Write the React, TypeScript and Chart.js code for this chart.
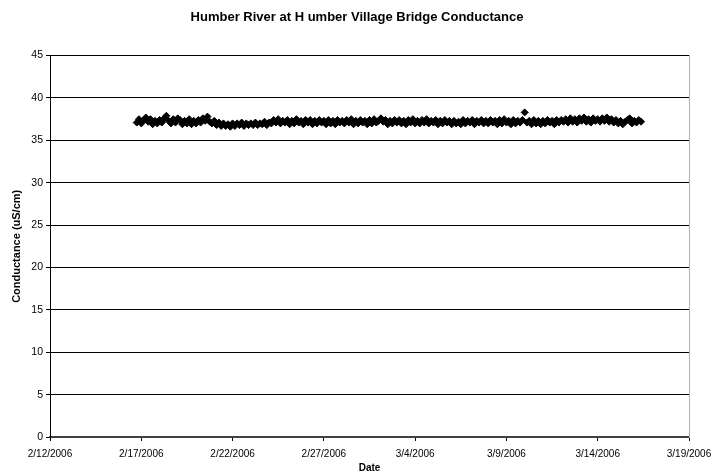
import React, { useEffect, useRef } from "react";
import { Chart, registerables } from "chart.js";

Chart.register(...registerables);

// Axis range in days after 2/12/2006
const axisStartDate = Date.UTC(2006, 1, 12);
const xMinDays = 0;
const xMaxDays = 35;
const xStepDays = 5;
const yTicksMin = 0;
const yTicksMax = 45;
const yTicksStep = 5;

// Sampling: first reading 2/16/2006 18:00, one reading every 3 hours
const firstReadingDay = 4.75;
const readingIntervalDays = 0.125;

// Conductance (uS/cm) readings, split by week
const week1 = [
  37.1, 37.5, 37.0, 37.4, 37.7, 37.2, 37.5, 36.9, 37.3, 37.0, 37.4,
  37.1, 37.6, 37.9, 37.3, 37.0, 37.5, 37.1, 37.6,
  37.4, 36.9, 37.3, 37.0, 37.5, 36.9, 37.3, 37.0,
  37.4, 37.1, 37.6, 37.3, 37.8, 37.2, 37.0, 37.3,
  36.8, 37.1, 36.7, 37.0, 36.7, 36.9, 36.6, 37.0,
  36.7, 37.0, 36.8, 37.1, 36.7, 37.0, 36.8, 37.0,
  36.8, 37.1, 36.8, 37.0, 36.9, 37.2, 36.8, 37.1,
];
const week2 = [
  37.0, 37.4, 37.1, 37.5, 37.0, 37.3, 37.1, 37.4,
  36.9, 37.3, 37.0, 37.5, 37.1, 37.3, 36.9, 37.4,
  37.1, 37.4, 36.9, 37.3, 37.0, 37.4, 37.1, 37.3,
  36.9, 37.4, 37.0, 37.3, 36.9, 37.4, 37.1, 37.3,
  37.0, 37.4, 37.1, 37.5, 36.9, 37.3, 37.0, 37.4,
  37.1, 37.3, 36.9, 37.4, 37.0, 37.5, 37.1, 37.3,
  37.6, 37.2, 37.4, 36.9, 37.3, 37.0, 37.4, 37.1,
];
const week3 = [
  37.4, 37.0, 37.3, 36.9, 37.4, 37.1, 37.5, 37.0,
  37.3, 37.0, 37.4, 37.1, 37.5, 37.0, 37.3, 37.1,
  37.4, 36.9, 37.3, 37.0, 37.4, 37.1, 37.3, 36.9,
  37.3, 37.0, 37.2, 36.9, 37.4, 37.0, 37.3, 37.1,
  37.4, 36.9, 37.3, 37.1, 37.4, 37.0, 37.3, 37.0,
  37.4, 37.1, 37.3, 36.9, 37.4, 37.0, 37.5, 37.1,
  37.3, 36.9, 37.4, 37.0, 37.3, 37.1, 37.4, 38.3,
];
const week4 = [
  37.1, 37.3, 36.9, 37.4, 37.0, 37.3, 36.9, 37.3,
  37.0, 37.4, 37.1, 37.3, 36.9, 37.4, 37.1, 37.4,
  37.2, 37.5, 37.1, 37.6, 37.2, 37.5, 37.1, 37.6,
  37.3, 37.7, 37.2, 37.5, 37.1, 37.6, 37.3, 37.5,
  37.2, 37.6, 37.3, 37.7, 37.2, 37.5, 37.1, 37.4,
  37.0, 37.3, 36.9, 37.2, 37.4, 37.6, 37.0, 37.3,
  37.1, 37.4, 37.2,
];

const conductance = [...week1, ...week2, ...week3, ...week4];

const FONT = "'Liberation Sans', Arial, sans-serif";

function formatDate(dayOffset: number): string {
  const d = new Date(axisStartDate + Math.round(dayOffset * 86400000));
  return `${d.getUTCMonth() + 1}/${d.getUTCDate()}/${d.getUTCFullYear()}`;
}

export default function App() {
  const ref = useRef<HTMLCanvasElement | null>(null);

  useEffect(() => {
    if (!ref.current) return;
    const points = conductance.map((v, i) => ({
      x: firstReadingDay + i * readingIntervalDays,
      y: v,
    }));
    const chart = new Chart(ref.current, {
      type: "scatter",
      data: {
        datasets: [
          {
            label: "Conductance",
            data: points,
            showLine: false,
            pointStyle: "rectRot",
            pointRadius: 3.5,
            pointHoverRadius: 3.5,
            pointBorderWidth: 1,
            backgroundColor: "#000",
            borderColor: "#000",
            xAxisID: "x",
            yAxisID: "y",
          },
        ],
      },
      options: {
        animation: false,
        responsive: false,
        maintainAspectRatio: false,
        devicePixelRatio: 1,
        layout: { padding: 0 },
        plugins: {
          legend: { display: false },
          tooltip: { enabled: false },
          title: {
            display: true,
            text: "Humber River at H umber Village Bridge Conductance",
            color: "#000",
            font: { family: FONT, size: 13, weight: "bold" },
            padding: { top: 10, bottom: 30 },
          },
        },
        scales: {
          x: {
            type: "linear",
            position: "bottom",
            min: xMinDays,
            max: xMaxDays,
            afterFit: (s: any) => {
              s.height = 39;
            },
            ticks: {
              stepSize: xStepDays,
              color: "#000",
              font: { family: FONT, size: 10, lineHeight: 2.2 },
              padding: 2,
              maxRotation: 0,
              autoSkip: false,
              callback: (v: any) => formatDate(Number(v)),
            },
            grid: {
              drawOnChartArea: false,
              drawTicks: true,
              tickLength: 4,
              color: "#000",
            },
            border: { display: true, color: "#404040", width: 2 },
            title: {
              display: true,
              text: "Date",
              color: "#000",
              font: { family: FONT, size: 10, weight: "bold" },
              padding: { top: 0, bottom: 2 },
            },
          },
          y: {
            type: "linear",
            position: "left",
            min: yTicksMin,
            max: yTicksMax,
            afterFit: (s: any) => {
              s.width = 50;
            },
            ticks: {
              stepSize: yTicksStep,
              color: "#000",
              font: { family: FONT, size: 10.5 },
              padding: 3,
            },
            grid: {
              color: "#000",
              lineWidth: 1,
              drawTicks: true,
              tickLength: 4,
            },
            border: { display: true, color: "#000", width: 1 },
            title: {
              display: true,
              text: "Conductance (uS/cm)",
              color: "#000",
              font: { family: FONT, size: 11, weight: "bold" },
              padding: { top: 10, bottom: 0 },
            },
          },
          yRight: {
            type: "linear",
            position: "right",
            min: yTicksMin,
            max: yTicksMax,
            afterFit: (s: any) => {
              s.width = 25;
            },
            ticks: { display: false },
            grid: { display: false, drawTicks: false },
            border: { display: true, color: "#b0b0b0", width: 1 },
          },
        },
      },
    });
    return () => chart.destroy();
  }, []);

  return (
    <div style={{ position: "absolute", left: 0, top: 0, width: 714, height: 476, background: "#fff" }}>
      <canvas ref={ref} width={714} height={476} style={{ display: "block", width: 714, height: 476 }} />
    </div>
  );
}
